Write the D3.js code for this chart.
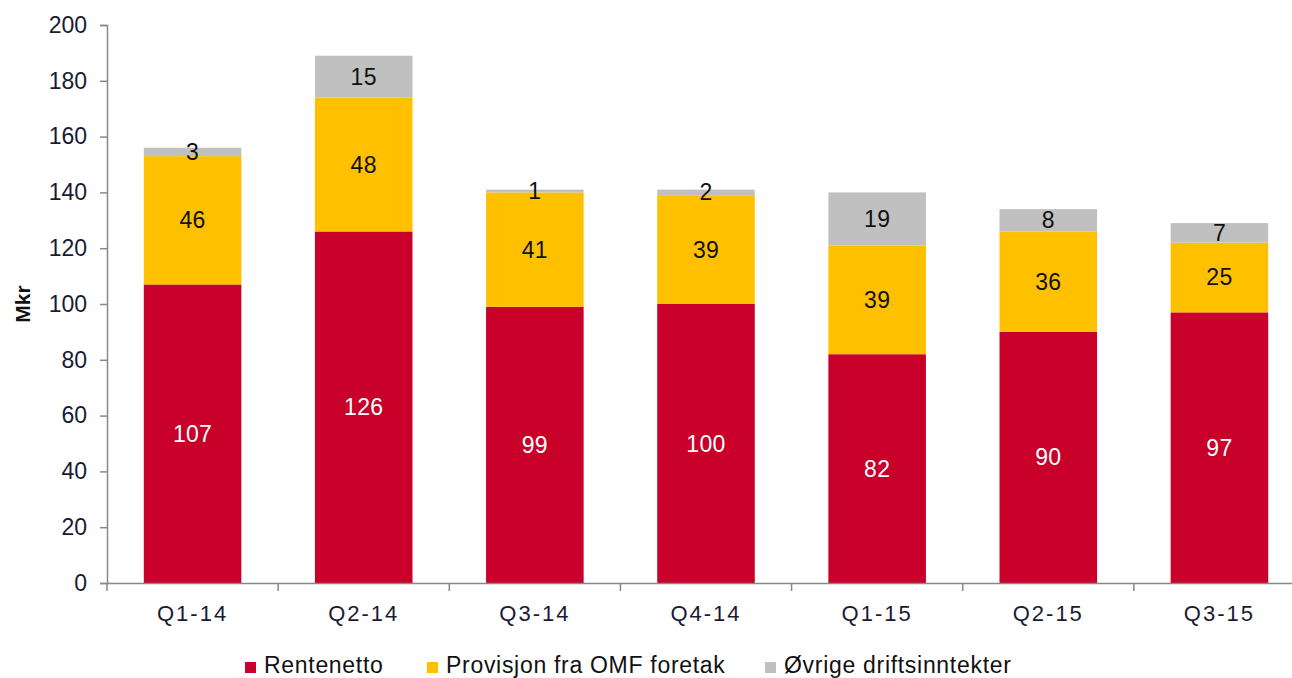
<!DOCTYPE html>
<html>
<head>
<meta charset="utf-8">
<script src="https://cdn.jsdelivr.net/npm/d3@7"></script>
<style>
  body { margin: 0; background: #fff; }
  svg { display: block; font-family: "Liberation Sans", Arial, sans-serif; }
</style>
</head>
<body>
<div id="chart"></div>
<script>
const quarters = ["Q1-14", "Q2-14", "Q3-14", "Q4-14", "Q1-15", "Q2-15", "Q3-15"];
const rentenetto = [107, 126, 99, 100, 82, 90, 97];
const provisjon = [46, 48, 41, 39, 39, 36, 25];
const ovrige = [3, 15, 1, 2, 19, 8, 7];
const seriesNames = ["Rentenetto", "Provisjon fra OMF foretak", "Øvrige driftsinntekter"];
const yTicks = [0, 20, 40, 60, 80, 100, 120, 140, 160, 180, 200];

const colors = ["#C8002A", "#FFC000", "#C0C0C0"];
const labelColors = ["#fff", "#111", "#111"];
const textColor = "#1a1a33";

const W = 1292, H = 678;
const margin = { top: 25, left: 107, bottom: 95 };
const plotW = 1198;
const plotH = H - margin.top - margin.bottom;

const svg = d3.select("#chart").append("svg")
    .attr("width", W)
    .attr("height", H);

const g = svg.append("g")
    .attr("transform", `translate(${margin.left},${margin.top})`);

const x = d3.scaleBand()
    .domain(quarters)
    .range([0, plotW])
    .paddingInner(0.43)
    .paddingOuter(0.215);

const y = d3.scaleLinear()
    .domain([0, 200])
    .range([plotH, 0]);

const rows = quarters.map((q, i) => ({ q, v: [rentenetto[i], provisjon[i], ovrige[i]] }));
const stack = d3.stack().keys([0, 1, 2]).value((d, k) => d.v[k]);
const layers = stack(rows);

layers.forEach((layer, k) => {
    const lg = g.append("g");
    lg.selectAll("rect")
        .data(layer)
        .enter().append("rect")
        .attr("x", d => x(d.data.q))
        .attr("y", d => y(d[1]))
        .attr("width", x.bandwidth())
        .attr("height", d => y(d[0]) - y(d[1]))
        .attr("fill", colors[k]);

    lg.selectAll("text")
        .data(layer)
        .enter().append("text")
        .attr("x", d => x(d.data.q) + x.bandwidth() / 2)
        .attr("y", d => (y(d[0]) + y(d[1])) / 2 + 8)
        .attr("text-anchor", "middle")
        .style("font-size", "23px")
        .style("letter-spacing", "0.3px")
        .style("fill", labelColors[k])
        .text(d => d.data.v[k]);
});

// y axis
const yAxis = g.append("g")
    .call(d3.axisLeft(y).tickValues(yTicks).tickSize(7).tickPadding(13).tickSizeOuter(7));
yAxis.selectAll("path, line").attr("stroke", "#888").attr("stroke-width", 1.5);
yAxis.selectAll("text").style("font-size", "23px").style("fill", textColor);

// x axis
const xAxis = g.append("g")
    .attr("transform", `translate(0,${plotH})`)
    .call(d3.axisBottom(x).tickSize(0).tickPadding(22));
xAxis.select(".domain").attr("stroke", "#888").attr("stroke-width", 1.5);
xAxis.selectAll("text")
    .style("font-size", "22px")
    .style("letter-spacing", "2px")
    .style("fill", textColor);

// category separators
g.append("g").selectAll("line")
    .data(quarters)
    .enter().append("line")
    .attr("x1", d => x(d) - x.step() * x.paddingInner() / 2)
    .attr("x2", d => x(d) - x.step() * x.paddingInner() / 2)
    .attr("y1", plotH)
    .attr("y2", plotH + 8)
    .attr("stroke", "#888")
    .attr("stroke-width", 1.5);

svg.append("text")
    .attr("transform", `translate(30,${margin.top + plotH / 2}) rotate(-90)`)
    .attr("text-anchor", "middle")
    .style("font-size", "21px")
    .style("font-weight", "bold")
    .style("fill", "#111")
    .text("Mkr");

// legend
const legendX = [245, 427, 765];
const legend = svg.append("g");
seriesNames.forEach((name, k) => {
    legend.append("rect")
        .attr("x", legendX[k])
        .attr("y", 662)
        .attr("width", 11)
        .attr("height", 11)
        .attr("fill", colors[k]);
    legend.append("text")
        .attr("x", legendX[k] + 19)
        .attr("y", 673)
        .style("font-size", "23px")
        .style("letter-spacing", "0.7px")
        .style("fill", "#111")
        .text(name);
});
</script>
</body>
</html>
